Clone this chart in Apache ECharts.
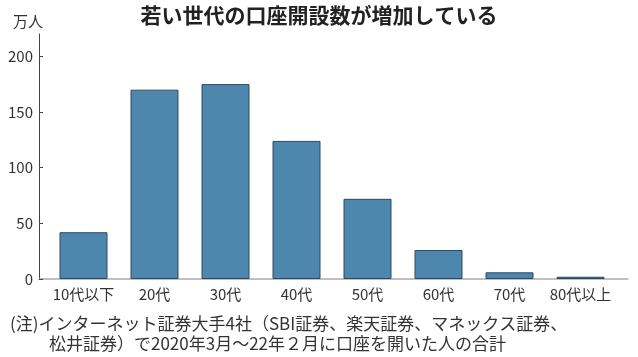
<!DOCTYPE html>
<html><head><meta charset="utf-8">
<script src="https://cdn.jsdelivr.net/npm/echarts@6/dist/echarts.min.js"></script>
<style>html,body{margin:0;padding:0;background:#fff}#c{width:638px;height:357px}</style>
</head><body><div id="c"></div>
<script>
const categories = ['10代以下','20代','30代','40代','50代','60代','70代','80代以上'];
const values = [42, 170, 175, 124, 72, 26, 6, 2];
const yTicks = [0, 50, 100, 150, 200];
const titleText = '若い世代の口座開設数が増加している';
const unitText = '万人';
const noteLine1 = '(注)インターネット証券大手4社（SBI証券、楽天証券、マネックス証券、';
const noteLine2 = '松井証券）で2020年3月～22年２月に口座を開いた人の合計';

const FONT = '"Noto Sans CJK JP", sans-serif';
const chart = echarts.init(document.getElementById('c'), null, {renderer:'canvas'});
chart.setOption({
  animation:false,
  textStyle:{fontFamily:FONT},
  title:[
    {text:titleText, left:'center', top:0, textStyle:{fontFamily:FONT, fontSize:21, fontWeight:'bold', color:'#222'}},
    {text:unitText, left:8, top:9, textStyle:{fontFamily:FONT, fontSize:15, fontWeight:'normal', color:'#333'}},
    {text:noteLine1, left:5, top:310, textStyle:{fontFamily:FONT, fontSize:17, fontWeight:'normal', color:'#333'}},
    {text:noteLine2, left:44, top:330, textStyle:{fontFamily:FONT, fontSize:17, fontWeight:'normal', color:'#333'}}
  ],
  grid:[
    {left:48, right:22, top:34, bottom:78},
    {left:39, right:10, top:34, bottom:78}
  ],
  xAxis:[
    {type:'category', data:categories, gridIndex:0,
     axisLine:{show:false}, axisTick:{show:false},
     axisLabel:{color:'#333', fontSize:15, margin:8, interval:0, fontFamily:FONT}},
    {type:'value', gridIndex:1, min:0, max:1,
     axisLine:{show:true, lineStyle:{color:'#aaa', width:1.5}},
     axisTick:{show:false}, axisLabel:{show:false}, splitLine:{show:false}}
  ],
  yAxis:[
    {type:'value', gridIndex:0, min:0, max:220, interval:50, offset:9,
     axisLine:{show:true, lineStyle:{color:'#444', width:1}},
     axisTick:{show:true, inside:true, length:4, lineStyle:{color:'#444'}, customValues:yTicks},
     axisLabel:{color:'#333', fontSize:15, margin:6, fontFamily:FONT, customValues:yTicks},
     splitLine:{show:false}},
    {type:'value', gridIndex:1, min:0, max:1, show:false}
  ],
  series:[{
    type:'bar', data:values, xAxisIndex:0, yAxisIndex:0,
    barWidth:48,
    itemStyle:{color:'#4e87ae', borderColor:'#2e4a5f', borderWidth:1}
  }]
});
</script></body></html>
